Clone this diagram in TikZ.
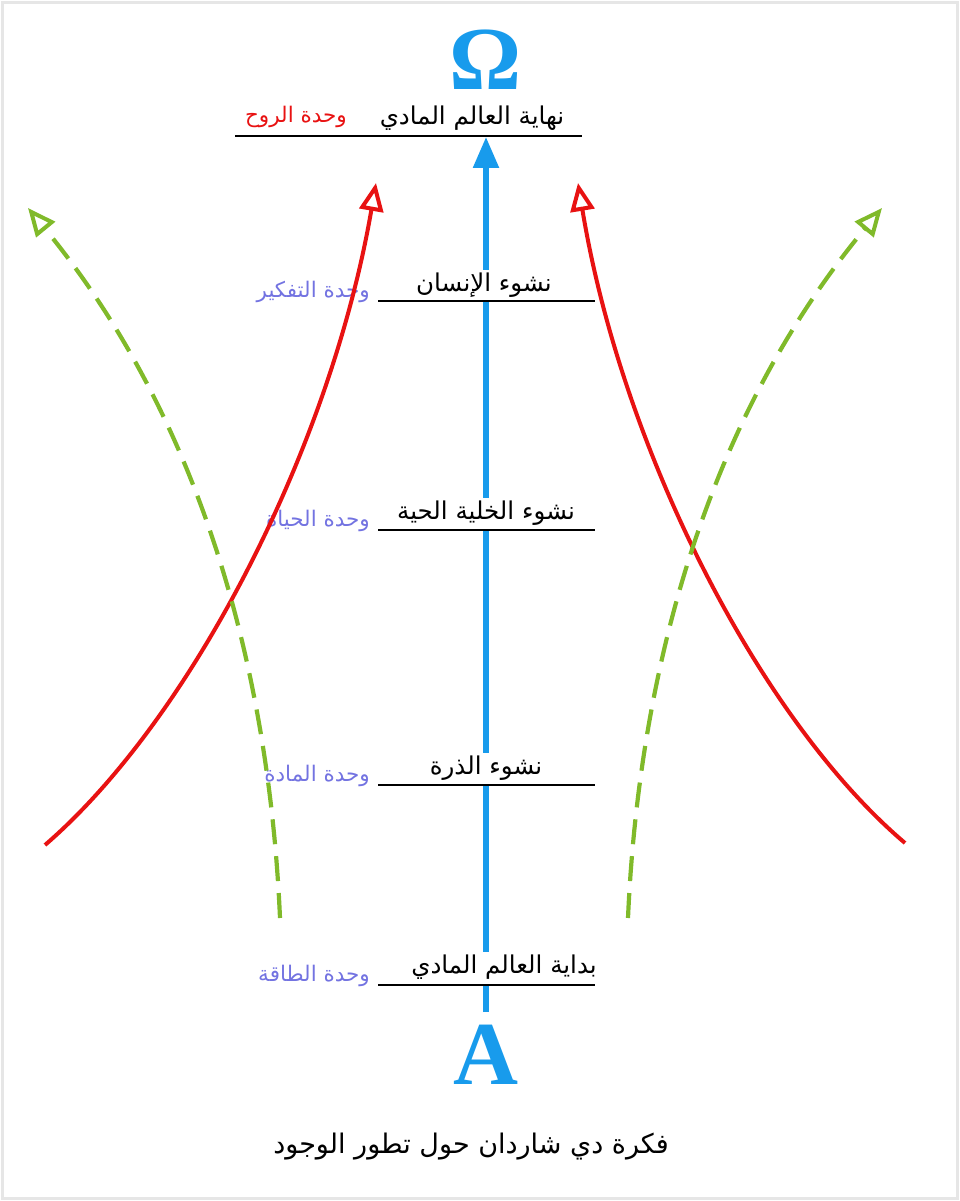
\documentclass[tikz,border=0pt]{standalone}
\usepackage{fontspec}
\usetikzlibrary{arrows.meta}
\TeXXeTstate=1
\newfontfamily\arabicfont[Script=Arabic]{DejaVu Sans}
\newfontfamily\serifletters{Liberation Serif}
\definecolor{skyblue}{RGB}{24,155,236}
\definecolor{arrowred}{RGB}{232,18,18}
\definecolor{leafgreen}{RGB}{128,186,42}
\definecolor{unitblue}{RGB}{115,115,225}
\definecolor{framegray}{RGB}{230,230,230}
\begin{document}
\begin{tikzpicture}[x=1pt,y=-1pt,
  stage/.style={font=\arabicfont\fontsize{24.5}{28}\selectfont, fill=white, inner xsep=3pt, inner ysep=2pt, text depth=9pt, anchor=base},
  unitlabel/.style={font=\arabicfont\fontsize{21.5}{25}\selectfont, text=unitblue, inner sep=0pt, anchor=base east},
  rulebar/.style={line width=1.3pt, black},
  bigletter/.style={font=\serifletters\bfseries\fontsize{90}{92}\selectfont, text=skyblue, inner sep=0pt, anchor=base},
  redarrow/.style={line width=4pt, arrowred, -{Triangle[open,length=28pt,width=24pt,line width=4pt]}},
  greenarrow/.style={line width=4.2pt, leafgreen, dash pattern=on 25pt off 12pt, -{Triangle[open,length=28pt,width=24pt,line width=4pt]}},
  mainarrow/.style={line width=5.5pt, skyblue, -{Triangle[length=31pt,width=25pt]}}
]
\useasboundingbox (0,0) rectangle (960,1201);
\draw[framegray, line width=3pt] (2.5,2.5) rectangle (957.5,1198.5);

% letters
\node[bigletter] (omega) at (486,90) {Ω};
\node[bigletter] (alpha) at (486,1084) {A};

% main axis
\coordinate (axisbottom) at (486,1012);
\coordinate (axistop) at (486,137);
\draw[mainarrow] (axisbottom) -- (axistop);

% stages
\node[stage] (s5) at (472,125) {\beginR نهاية العالم المادي\endR};
\draw[rulebar] (235,136) coordinate (r5a) -- (582,136) coordinate (r5b);
\node[unitlabel, text=arrowred] (u5) at (347,123) {\beginR وحدة الروح\endR};

\node[stage] (s4) at (484,291) {\beginR نشوء الإنسان\endR};
\draw[rulebar] (378,301) coordinate (r4a) -- (595,301) coordinate (r4b);
\node[unitlabel] (u4) at (370,297) {\beginR وحدة التفكير\endR};

\node[stage] (s3) at (486,519) {\beginR نشوء الخلية الحية\endR};
\draw[rulebar] (378,530) coordinate (r3a) -- (595,530) coordinate (r3b);
\node[unitlabel] (u3) at (370,526) {\beginR وحدة الحياة\endR};

\node[stage] (s2) at (486,774) {\beginR نشوء الذرة\endR};
\draw[rulebar] (378,785) coordinate (r2a) -- (595,785) coordinate (r2b);
\node[unitlabel] (u2) at (370,781) {\beginR وحدة المادة\endR};

\node[stage] (s1) at (504,973) {\beginR بداية العالم المادي\endR};
\draw[rulebar] (378,985) coordinate (r1a) -- (595,985) coordinate (r1b);
\node[unitlabel] (u1) at (370,981) {\beginR وحدة الطاقة\endR};

% curves
\coordinate (redLs) at (45,845);
\coordinate (redLe) at (376,183);
\coordinate (redRs) at (905,843);
\coordinate (redRe) at (578,183);
\coordinate (grnLs) at (280,918);
\coordinate (grnLe) at (28,208);
\coordinate (grnRs) at (628,918);
\coordinate (grnRe) at (882,208);
\draw[redarrow] (redLs) .. controls (190,720) and (330,450) .. (redLe);
\draw[redarrow] (redRs) .. controls (760,720) and (622,450) .. (redRe);
\draw[greenarrow] (grnLs) .. controls (270,690) and (210,430) .. (grnLe);
\draw[greenarrow] (grnRs) .. controls (638,690) and (698,430) .. (grnRe);

% title
\node[font=\arabicfont\fontsize{27}{31}\selectfont, inner sep=0pt, anchor=base] (title) at (471,1153) {\beginR فكرة دي شاردان حول تطور الوجود\endR};
\end{tikzpicture}
\end{document}
